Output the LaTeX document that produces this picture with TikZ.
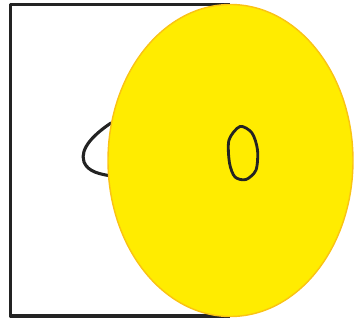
\documentclass[tikz,border=0pt]{standalone}
\usepackage{tikz}
\definecolor{ink}{RGB}{35,35,35}
\definecolor{sunfill}{RGB}{255,236,0}
\definecolor{sunedge}{RGB}{250,195,20}
\tikzset{
  stroke/.style={draw=ink,line width=2.2pt,line cap=round,line join=round},
  disc/.style={fill=sunfill,draw=sunedge,line width=1pt},
}
\begin{document}
\begin{tikzpicture}[x=0.025cm,y=-0.025cm]
  \useasboundingbox (0,0) rectangle (357,321);
  % open frame
  \draw[stroke,line cap=butt] (230,4.5) -- (10.5,4.5) -- (10.5,316) -- (230,316);
  % curve on the left
  \draw[stroke] (111,123) .. controls (96,133) and (79,148) .. (84,162)
    .. controls (88,172) and (100,174) .. (111,176);
  % yellow disc
  \draw[disc] (230.5,160.5) ellipse (122.5 and 156);
  % the oval inside
  \draw[stroke,line width=2pt] plot[smooth cycle] coordinates
    {(240,126.5) (252,133) (257.5,150) (256,170) (246,179.5) (235,177) (229.5,163) (229,140)};
\end{tikzpicture}
\end{document}
